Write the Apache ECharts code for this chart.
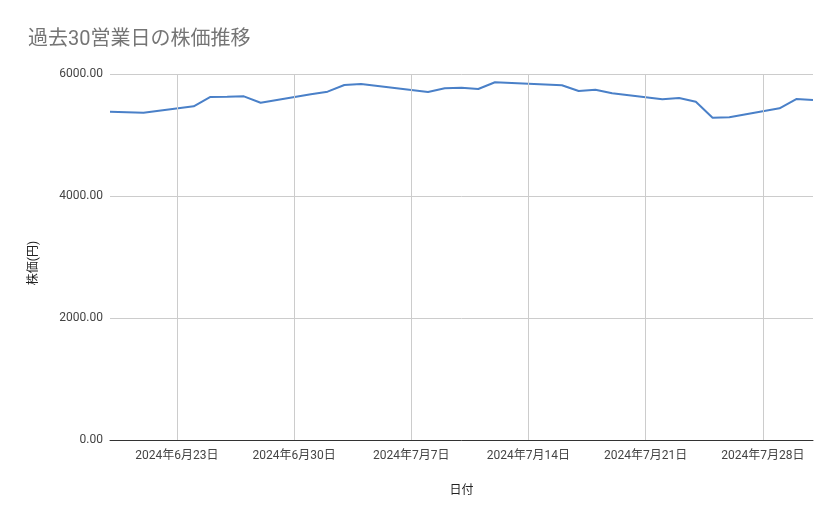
<!DOCTYPE html>
<html>
<head>
<meta charset="utf-8">
<script src="https://cdn.jsdelivr.net/npm/echarts@6/dist/echarts.min.js"></script>
<style>
html,body{margin:0;padding:0;background:#fff;}
#c{width:839px;height:519px;}
</style>
</head>
<body>
<div id="c"></div>
<script>
var titleText = '過去30営業日の株価推移';
var xName = '日付';
var yName = '株価(円)';
var dates = ['2024-06-19','2024-06-20','2024-06-21','2024-06-24','2024-06-25','2024-06-26','2024-06-27','2024-06-28',
  '2024-07-01','2024-07-02','2024-07-03','2024-07-04','2024-07-05','2024-07-08','2024-07-09','2024-07-10','2024-07-11','2024-07-12',
  '2024-07-16','2024-07-17','2024-07-18','2024-07-19','2024-07-22','2024-07-23','2024-07-24','2024-07-25','2024-07-26',
  '2024-07-29','2024-07-30','2024-07-31'];
var prices = [5382,5374,5366,5470,5623,5628,5634,5529,
  5668,5710,5820,5836,5803,5705,5765,5775,5754,5864,
  5815,5721,5743,5684,5585,5607,5546,5284,5290,
  5437,5590,5574];
var axisStartDate = '2024-06-19';
var axisEndDate = '2024-07-31';
var tickDates = ['2024-06-23','2024-06-30','2024-07-07','2024-07-14','2024-07-21','2024-07-28'];
var yTicks = [0,2000,4000,6000];

var baseDate = '2024-06-23';
function utc(s){
  var p = s.split('-').map(Number);
  return Date.UTC(p[0],p[1]-1,p[2]);
}
function dayNum(s){
  return Math.round((utc(s) - utc(baseDate))/86400000);
}
function fmtDay(n){
  var d = new Date(utc(baseDate) + n*86400000);
  return d.getUTCFullYear()+'年'+(d.getUTCMonth()+1)+'月'+d.getUTCDate()+'日';
}
var seriesData = dates.map(function(d,i){return [dayNum(d), prices[i]];});
var tickVals = tickDates.map(dayNum);

var font = 'Roboto, "Noto Sans CJK JP", sans-serif';
var chart = echarts.init(document.getElementById('c'), null, {renderer:'canvas'});
chart.setOption({
  animation:false,
  backgroundColor:'#fff',
  title:{
    text:titleText, left:23, top:25,
    textStyle:{fontFamily:font, fontSize:20, fontWeight:'normal', color:'#757575'}
  },
  grid:{left:110, right:26, top:74, bottom:79},
  xAxis:{
    type:'value',
    min:dayNum(axisStartDate), max:dayNum(axisEndDate),
    name:xName, nameLocation:'middle', nameGap:45,
    nameTextStyle:{fontFamily:font, fontSize:12, color:'#222'},
    axisLine:{show:true, onZero:false, lineStyle:{color:'#333', width:1}},
    axisTick:{show:false},
    splitLine:{show:false},
    axisLabel:{customValues:tickVals, formatter:function(v){return fmtDay(v);}, fontFamily:font, fontSize:12, color:'#444', margin:10}
  },
  yAxis:{
    type:'value', min:yTicks[0], max:yTicks[yTicks.length-1], interval:2000,
    name:yName, nameLocation:'middle', nameGap:70, nameRotate:90,
    nameTextStyle:{fontFamily:font, fontSize:12, color:'#222', padding:[0,12,0,0]},
    axisLine:{show:false}, axisTick:{show:false},
    splitLine:{lineStyle:{color:'#cccccc', width:1}},
    axisLabel:{formatter:function(v){return v.toFixed(2);}, fontFamily:font, fontSize:12, color:'#444', margin:7}
  },
  series:[
    {
      type:'line', data:[], z:1, silent:true,
      markLine:{
        silent:true, symbol:['none','none'], label:{show:false},
        lineStyle:{color:'#cccccc', width:1, type:'solid'},
        animation:false,
        data:tickVals.map(function(v){return {xAxis:v};})
      }
    },
    {
      type:'line', data:seriesData, z:3,
      showSymbol:false, symbol:'none',
      lineStyle:{color:'#4a80c8', width:2},
      itemStyle:{color:'#4a80c8'}
    }
  ]
});
</script>
</body>
</html>
